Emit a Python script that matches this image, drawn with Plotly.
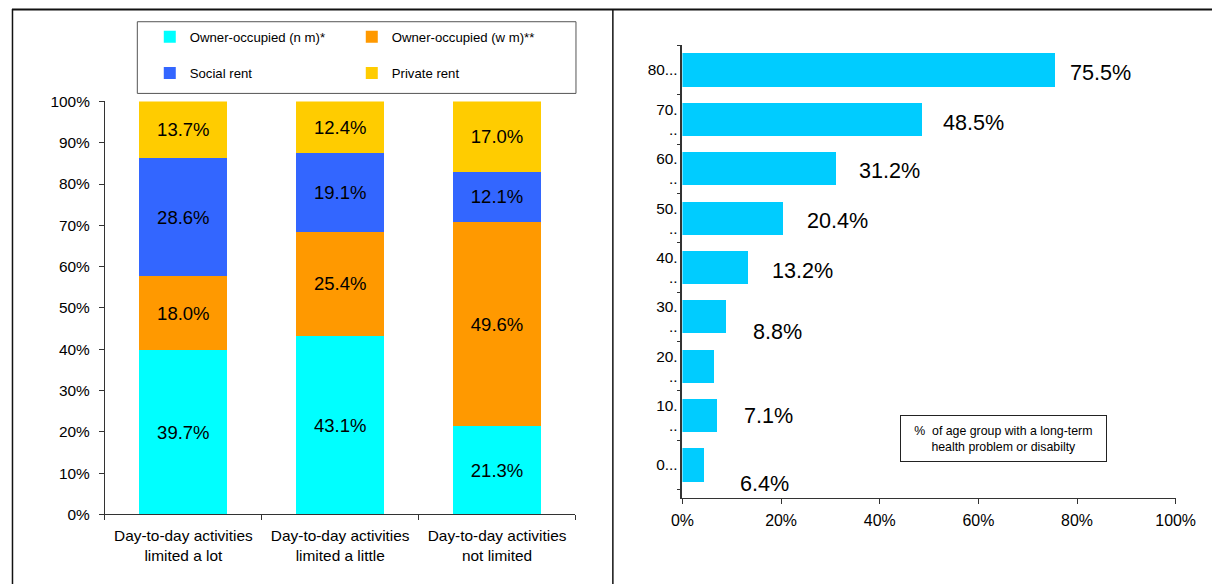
import plotly.graph_objects as go

# ---- Left panel: tenure by limitation of day-to-day activities ----
activity_groups = [
    "Day-to-day activities<br>limited a lot",
    "Day-to-day activities<br>limited a little",
    "Day-to-day activities<br>not limited",
]
owner_no_mortgage = [39.7, 43.1, 21.3]
owner_with_mortgage = [18.0, 25.4, 49.6]
social_rent = [28.6, 19.1, 12.1]
private_rent = [13.7, 12.4, 17.0]

tenure_names = [
    "Owner-occupied (n m)*",
    "Owner-occupied (w m)**",
    "Social rent",
    "Private rent",
]
tenure_colors = ["#00FFFF", "#FF9900", "#3366FF", "#FFCC00"]

# ---- Right panel: share of each age group with a long-term condition ----
age_groups = ["0...", "10...", "20...", "30...", "40...", "50...", "60...", "70...", "80..."]
age_tick_text = ["0...", "10.<br>..", "20.<br>..", "30.<br>..", "40.<br>..",
                 "50.<br>..", "60.<br>..", "70.<br>..", "80..."]
age_share = [4.4, 7.1, 6.4, 8.8, 13.2, 20.4, 31.2, 48.5, 75.5]
age_labels = [None, "7.1%", "6.4%", "8.8%", "13.2%", "20.4%", "31.2%", "48.5%", "75.5%"]
x_ticks = [0, 20, 40, 60, 80, 100]
x_tick_text = ["0%", "20%", "40%", "60%", "80%", "100%"]

# label placement (screen-pixel offsets from the bar end)
label_offsets = [(0, 0), (24, 0), (23, -114), (25, -14), (22, -3),
                 (21, -2), (20, -2), (19, -3), (13, -2)]

FONT = "Liberation Sans, Arial, sans-serif"

# screen layout: figure drawn from an 8 px page margin with a slight zoom
ORIGIN = 7.8
SX, SY = 0.977, 0.969
W, H = 1232, 594
K = 1 / ((SX + SY) / 2)          # size compensation for the zoom
AXIS = "#333333"


def px(x):
    """screen x pixel -> paper fraction"""
    return ((x - ORIGIN) / SX) / W


def py(y):
    """screen y pixel -> paper fraction"""
    return 1 - ((y - ORIGIN) / SY) / H


def fs(size):
    return round(size * K, 2)


fig = go.Figure()

series = [owner_no_mortgage, owner_with_mortgage, social_rent, private_rent]
legend_ids = ["legend", "legend", "legend2", "legend2"]
for name, vals, col, lg in zip(tenure_names, series, tenure_colors, legend_ids):
    fig.add_trace(go.Bar(
        x=activity_groups, y=vals, name=name,
        marker=dict(color=col, line=dict(width=0)),
        text=[f"{v:.1f}%" for v in vals],
        textposition="inside", insidetextanchor="middle", textangle=0,
        textfont=dict(size=fs(18), color="#000000", family=FONT),
        constraintext="none",
        xaxis="x", yaxis="y", legend=lg,
    ))

fig.add_trace(go.Bar(
    x=age_share, y=age_groups, orientation="h",
    marker=dict(color="#00CCFF", line=dict(width=0)),
    width=0.67, showlegend=False, xaxis="x2", yaxis="y2",
))

for cat, val, lab, (dx, dy) in zip(age_groups, age_share, age_labels, label_offsets):
    if lab is None:
        continue
    fig.add_annotation(
        x=val, y=cat, xref="x2", yref="y2", text=lab, showarrow=False,
        xanchor="left", yanchor="middle", xshift=dx / SX, yshift=dy / SY,
        font=dict(size=fs(21), color="#000000", family=FONT),
    )

fig.add_annotation(
    x=px(1002.5), y=py(436.7), xref="paper", yref="paper",
    text="%  of age group with a long-term<br>health problem or disabilty",
    showarrow=False, xanchor="center", yanchor="middle",
    width=198 / SX, height=42 / SY, align="center",
    bordercolor="#222222", borderwidth=1, borderpad=1, bgcolor="#FFFFFF",
    font=dict(size=fs(12), color="#000000", family=FONT),
)

# panel frame lines and legend border
fig.add_shape(type="line", xref="paper", yref="paper", x0=0, x1=1,
              y0=1 - 0.5 / H, y1=1 - 0.5 / H, line=dict(color="#111111", width=2))
fig.add_shape(type="line", xref="paper", yref="paper", x0=0.5 / W, x1=0.5 / W,
              y0=0, y1=1, line=dict(color="#111111", width=1.5))
fig.add_shape(type="line", xref="paper", yref="paper", x0=px(610.5), x1=px(610.5),
              y0=0, y1=1, line=dict(color="#111111", width=1.5))
fig.add_shape(type="rect", xref="paper", yref="paper",
              x0=px(133.5), x1=px(573.5), y0=py(92), y1=py(20.5),
              line=dict(color="#555555", width=1), fillcolor="rgba(0,0,0,0)")

legend_common = dict(
    orientation="h", xanchor="left", yanchor="middle",
    font=dict(size=fs(12.8), color="#000000", family=FONT),
    bgcolor="rgba(0,0,0,0)", borderwidth=0, entrywidth=157,
    itemclick=False, itemdoubleclick=False, traceorder="normal",
)

fig.update_layout(
    width=W, height=H,
    margin=dict(l=0, r=0, t=0, b=0),
    paper_bgcolor="#FFFFFF", plot_bgcolor="#FFFFFF",
    font=dict(family=FONT, color="#000000"),
    barmode="stack",
    legend=dict(x=px(146), y=py(36), **legend_common),
    legend2=dict(x=px(146), y=py(72), **legend_common),
    xaxis=dict(
        domain=[px(101), px(573)], anchor="y",
        showline=True, linecolor=AXIS, linewidth=1,
        ticks="outside", tickson="boundaries", ticklen=5, tickcolor=AXIS,
        ticklabelstandoff=7,
        tickfont=dict(size=fs(15), family=FONT, color="#000000"),
        showgrid=False, zeroline=False,
    ),
    yaxis=dict(
        domain=[py(512), py(100)], anchor="x",
        range=[0, 100], dtick=10, ticksuffix="%",
        showline=True, linecolor=AXIS, linewidth=1,
        ticks="outside", ticklen=5, tickcolor=AXIS,
        ticklabelstandoff=6,
        tickfont=dict(size=fs(15), family=FONT, color="#000000"),
        showgrid=False, zeroline=False,
    ),
    xaxis2=dict(
        domain=[px(680.3), px(1175)], anchor="y2",
        range=[0, 100], tickvals=x_ticks, ticktext=x_tick_text,
        showline=True, linecolor=AXIS, linewidth=1,
        ticks="outside", ticklen=5, tickcolor=AXIS,
        ticklabelstandoff=2,
        tickfont=dict(size=fs(15.5), family=FONT, color="#000000"),
        showgrid=False, zeroline=False,
    ),
    yaxis2=dict(
        domain=[py(496), py(44)], anchor="x2",
        categoryorder="array", categoryarray=age_groups,
        tickvals=age_groups, ticktext=age_tick_text,
        showline=True, linecolor=AXIS, linewidth=1.5,
        ticks="outside", tickson="boundaries", ticklen=4, tickcolor=AXIS,
        tickfont=dict(size=fs(15), family=FONT, color="#000000"),
        showgrid=False, zeroline=False,
    ),
    bargap=0.44,
)

fig.write_html("out.html")
